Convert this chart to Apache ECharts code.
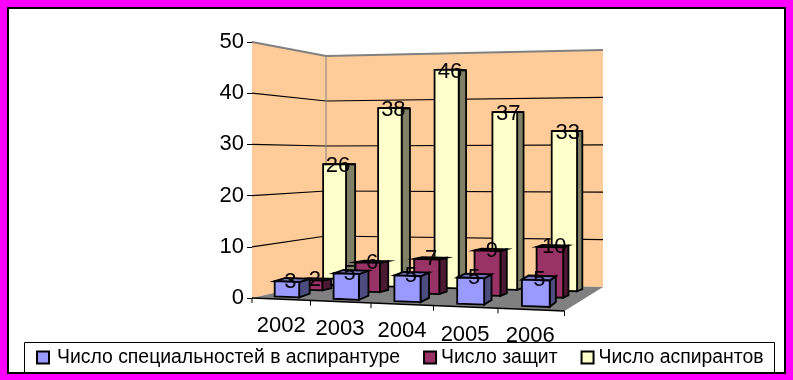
<!DOCTYPE html>
<html><head><meta charset="utf-8">
<style>html,body{margin:0;padding:0;background:#ff00ff}#c{width:793px;height:380px}</style>
<script src="https://cdn.jsdelivr.net/npm/echarts@6/dist/echarts.min.js"></script>
</head><body><div id="c"></div>
<script>
const categories = ['2002','2003','2004','2005','2006'];
const specialties = [3,5,5,5,5];
const defenses = [2,6,7,9,10];
const aspirants = [26,38,46,37,33];
const valueTicks = [10,20,30,40,50];
const names = ['Число специальностей в аспирантуре','Число защит','Число аспирантов'];

const FONT = '"Liberation Sans", Arial, sans-serif';
const GL=252, GR=565, GT=42, GB=298;
const VMAX=50, UMAX=5;

// Oblique box projection of the flat grid: front/back rows and floor/ceiling
function warp(p, w){
  const u=(p[0]-GL)/(GR-GL)*UMAX, t=(GB-p[1])/(GB-GT);
  const f=u/UMAX;
  const xF=GL+57.5*u+u*u, xB=326+52.4*u+0.6*u*u;
  const wy=Math.pow(w,0.65);
  const yF0=298+13*f, yB0=281+6*f, yF1=42-1*f, yB1=56-6*f;
  const y0=yF0+(yB0-yF0)*wy, y1=yF1+(yB1-yF1)*wy;
  return [xF+(xB-xF)*w, y0+(y1-y0)*t];
}
const poly=(pts,fill,stroke,lw,z2)=>({type:'polygon',shape:{points:pts},z2,
  style:{fill,stroke:stroke||null,lineWidth:lw||0}});
const line=(a,b,stroke,lw,z2)=>({type:'line',shape:{x1:a[0],y1:a[1],x2:b[0],y2:b[1]},z2,
  style:{stroke,lineWidth:lw}});

function sceneItem(params,api){
  const P=(u,v,w)=>warp(api.coord([u,v]),w);
  const kids=[];
  const WALL='#ffcc99', GRAY='#808080';
  kids.push(poly([P(0,0,0),P(0,VMAX,0),P(0,VMAX,1),P(0,0,1)],WALL,null,0,1));
  kids.push(poly([P(0,0,1),P(0,VMAX,1),P(UMAX,VMAX,1),P(UMAX,0,1)],WALL,null,0,1));
  kids.push(poly([P(0,0,0),P(0,0,1),P(UMAX,0,1),P(UMAX,0,0)],GRAY,null,0,2));
  valueTicks.forEach(v=>{
    const col=v===VMAX?GRAY:'#000', lw=v===VMAX?2:1.2;
    kids.push(line(P(0,v,0),P(0,v,1),col,lw,3));
    kids.push(line(P(0,v,1),P(UMAX,v,1),col,lw,3));
  });
  kids.push(line(P(0,0,1),P(0,VMAX,1),GRAY,1,3));
  kids.push(line(P(0,0,0),P(UMAX,0,0),'#000',1.5,4));
  for(let u=0;u<=UMAX;u++){
    const a=P(u,0,0);
    kids.push(line(a,[a[0],a[1]+5],'#000',1,4));
  }
  return {type:'group',children:kids};
}

function barRenderer(front,top,side,w0,w1,z,dx,dy){
  return function(params,api){
    const i=api.value(0), v=api.value(1);
    const u0=i+0.33, u1=i+0.75;
    const P=(u,val,w)=>warp(api.coord([u,val]),w);
    const lw=1.8, k='#000';
    const fc=P((u0+u1)/2,v,w0);
    return {type:'group',children:[
      poly([P(u1,0,w0),P(u1,v,w0),P(u1,v,w1),P(u1,0,w1)],side,k,lw,z),
      poly([P(u0,v,w0),P(u0,v,w1),P(u1,v,w1),P(u1,v,w0)],top,k,lw,z),
      poly([P(u0,0,w0),P(u0,v,w0),P(u1,v,w0),P(u1,0,w0)],front,k,lw,z+1),
      {type:'text',z2:100,style:{text:String(v),x:fc[0]+dx,y:fc[1]+dy,align:'center',verticalAlign:'middle',
        fill:'#000',font:'22px '+FONT}}
    ]};
  };
}
const toData=a=>a.map((v,i)=>[i,v]);
const labelShift=[[4,0],[12,3],[13,5],[12,9],[7,10]];
const rich={};
labelShift.forEach((s,i)=>{rich['l'+i]={fontFamily:FONT,fontSize:22,color:'#000',padding:[s[1],s[0],0,0]};});

const chart=echarts.init(document.getElementById('c'),null,{renderer:'canvas'});
chart.setOption({
  animation:false,
  backgroundColor:'#ff00ff',
  graphic:[
    {type:'rect',z:-10,shape:{x:8,y:8,width:777,height:365},style:{fill:'#fff',stroke:'#000',lineWidth:2}},
    {type:'rect',z:-9,shape:{x:24.5,y:342.5,width:750,height:30},style:{fill:'#fff',stroke:'#000',lineWidth:1}}
  ],
  grid:{left:GL,top:GT,width:GR-GL,height:GB-GT,containLabel:false},
  xAxis:[
    {type:'category',data:categories,position:'bottom',
      axisLine:{show:false},axisTick:{show:false},
      axisLabel:{interval:0,margin:17,formatter:(v,i)=>`{l${i}|${v}}`,rich}},
    {type:'value',min:0,max:UMAX,show:false}
  ],
  yAxis:{type:'value',min:0,max:VMAX,interval:10,
    axisLine:{show:true,lineStyle:{color:'#000',width:1}},
    axisTick:{show:true,length:5,lineStyle:{color:'#000'}},
    axisLabel:{fontFamily:FONT,fontSize:22,color:'#000',margin:8,padding:[3,0,0,0]},
    splitLine:{show:false}},
  legend:{left:31,top:343,itemWidth:12,itemHeight:12,itemGap:23,icon:'rect',
    textStyle:{fontFamily:FONT,fontSize:19.4,color:'#000'},
    data:[{name:names[0],textStyle:{padding:[0,0,0,3]}},{name:names[1]},{name:names[2]}],selectedMode:false},
  series:[
    {type:'custom',xAxisIndex:1,silent:true,data:[[0,0]],renderItem:sceneItem,z:1},
    {type:'custom',name:names[0],xAxisIndex:1,data:toData(specialties),z:2,
      itemStyle:{color:'#9999ff',borderColor:'#000',borderWidth:1.5},
      renderItem:barRenderer('#9999ff','#7373bf','#4c4c80',0.05,0.2,30,3.5,0)},
    {type:'custom',name:names[1],xAxisIndex:1,data:toData(defenses),z:2,
      itemStyle:{color:'#993366',borderColor:'#000',borderWidth:1.5},
      renderItem:barRenderer('#993366','#73264d','#4c1933',0.38,0.51,20,4.5,0)},
    {type:'custom',name:names[2],xAxisIndex:1,data:toData(aspirants),z:2,
      itemStyle:{color:'#ffffcc',borderColor:'#000',borderWidth:1.5},
      renderItem:barRenderer('#ffffcc','#bfbf99','#808066',0.72,0.85,10,3.5,2)}
  ]
});
</script></body></html>
